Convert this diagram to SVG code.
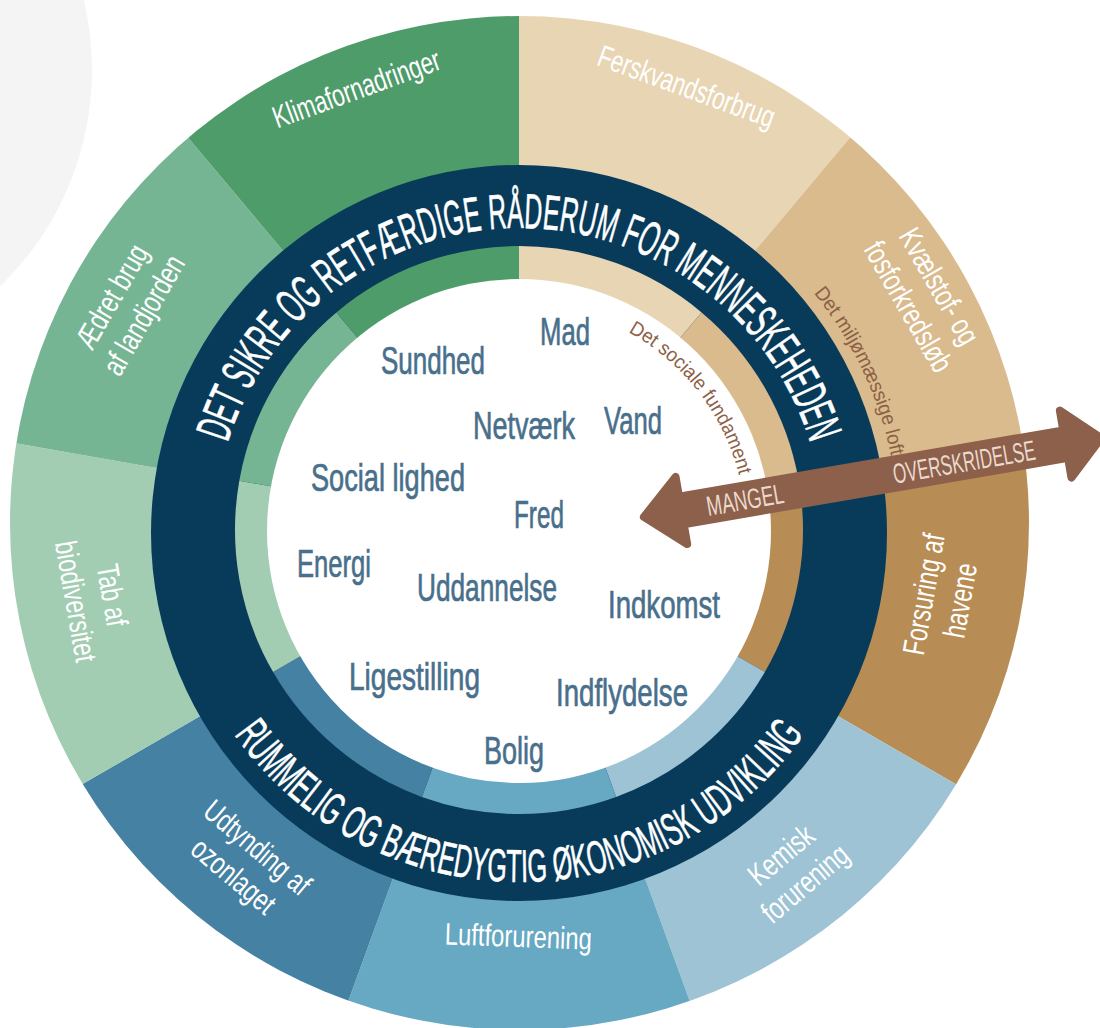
<svg xmlns="http://www.w3.org/2000/svg" width="1100" height="1028" viewBox="0 0 1100 1028">
<defs>
<style>
.lbl{font-family:"Liberation Sans",Arial,sans-serif;font-size:31px;fill:#ffffff;text-anchor:middle}
.word{font-family:"Liberation Sans",Arial,sans-serif;font-size:39px;fill:#486f8b;stroke:#486f8b;stroke-width:0.7px}
.ring{font-family:"Liberation Sans",Arial,sans-serif;fill:#ffffff;stroke:#ffffff;stroke-width:0.6px}
.small{font-family:"Liberation Sans",Arial,sans-serif;font-size:20px;fill:#8d5f47}
.arrowtxt{font-family:"Liberation Sans",Arial,sans-serif;font-size:28px;fill:#ead9ce}
</style>
<clipPath id="outerClip"><ellipse cx="519.5" cy="523" rx="509.5" ry="507"/></clipPath>
<path id="arcTop" d="M214,533 A305,305 0 0 1 824,533"/>
<path id="arcBottom" d="M170,533 A349,349 0 0 0 868,533"/>
<path id="arcSocial" d="M519,304 A227,227 0 0 1 746,531"/>
<path id="arcCeiling" d="M519,153 A380,380 0 0 1 899,533"/>
</defs>

<g id="background"><circle cx="-208" cy="70" r="300" fill="#f4f4f4"/></g>

<g id="boundaries" clip-path="url(#outerClip)">
 <g id="n-ferskvand">
  <path d="M519,532 L519,-68 A600,600 0 0 1 904.7,72.4 Z" fill="#e8d5b4"/>
  <text class="lbl" transform="translate(682.9,96.5) rotate(20) scale(0.72,1)">Ferskvandsforbrug</text>
 </g>
 <g id="n-kvaelstof">
  <path d="M519,532 L904.7,72.4 A600,600 0 0 1 1109.9,427.8 Z" fill="#d9bb8d"/>
  <text class="lbl" transform="translate(930.2,291.5) rotate(60) scale(0.74,1)">Kvælstof- og</text>
  <text class="lbl" transform="translate(899.2,312) rotate(60) scale(0.74,1)">fosforkredsløb</text>
 </g>
 <g id="n-forsuring">
  <path d="M519,532 L1109.9,427.8 A600,600 0 0 1 1038.6,832 Z" fill="#b78d55"/>
  <text class="lbl" transform="translate(934.2,595.9) rotate(-80) scale(0.74,1)">Forsuring af</text>
  <text class="lbl" transform="translate(970.6,602.3) rotate(-80) scale(0.74,1)">havene</text>
 </g>
 <g id="n-kemisk">
  <path d="M519,532 L1038.6,832 A600,600 0 0 1 724.2,1095.8 Z" fill="#9dc3d4"/>
  <text class="lbl" transform="translate(787.9,863.2) rotate(-40) scale(0.74,1)">Kemisk</text>
  <text class="lbl" transform="translate(811.7,891.6) rotate(-40) scale(0.74,1)">forurening</text>
 </g>
 <g id="n-luft">
  <path d="M519,532 L724.2,1095.8 A600,600 0 0 1 313.8,1095.8 Z" fill="#67a8c3"/>
  <text class="lbl" transform="translate(518,947) rotate(2) scale(0.77,1)">Luftforurening</text>
 </g>
 <g id="n-ozon">
  <path d="M519,532 L313.8,1095.8 A600,600 0 0 1 -0.6,832 Z" fill="#4581a2"/>
  <text class="lbl" transform="translate(250.6,855.7) rotate(40) scale(0.74,1)">Udtynding af</text>
  <text class="lbl" transform="translate(226.8,884.1) rotate(40) scale(0.74,1)">ozonlaget</text>
 </g>
 <g id="n-biodiversitet">
  <path d="M519,532 L-0.6,832 A600,600 0 0 1 -71.9,427.8 Z" fill="#a3cdb3"/>
  <text class="lbl" transform="translate(101.8,596.9) rotate(80) scale(0.74,1)">Tab af</text>
  <text class="lbl" transform="translate(65.4,603.3) rotate(80) scale(0.74,1)">biodiversitet</text>
 </g>
 <g id="n-landjord">
  <path d="M519,532 L-71.9,427.8 A600,600 0 0 1 133.3,72.4 Z" fill="#76b594"/>
  <text class="lbl" transform="translate(120.8,301.8) rotate(-60) scale(0.74,1)">Ædret brug</text>
  <text class="lbl" transform="translate(152.8,320.3) rotate(-60) scale(0.74,1)">af landjorden</text>
 </g>
 <g id="n-klima">
  <path d="M519,532 L133.3,72.4 A600,600 0 0 1 519,-68 Z" fill="#4f9c6b"/>
  <text class="lbl" transform="translate(360.1,98.5) rotate(-20) scale(0.72,1)">Klimafornadringer</text>
 </g>
</g>

<g id="n-dark-ring"><circle cx="519" cy="533" r="368" fill="#083b5a"/></g>

<g id="n-inner-ring">
 <path d="M519,530 L519,246 A284,284 0 0 1 701.6,312.4 Z" fill="#e8d5b4"/>
 <path d="M519,530 L701.6,312.4 A284,284 0 0 1 798.7,480.7 Z" fill="#d9bb8d"/>
 <path d="M519,530 L798.7,480.7 A284,284 0 0 1 764.9,672 Z" fill="#b78d55"/>
 <path d="M519,530 L764.9,672 A284,284 0 0 1 616.1,796.9 Z" fill="#9dc3d4"/>
 <path d="M519,530 L616.1,796.9 A284,284 0 0 1 421.9,796.9 Z" fill="#67a8c3"/>
 <path d="M519,530 L421.9,796.9 A284,284 0 0 1 273.1,672 Z" fill="#4581a2"/>
 <path d="M519,530 L273.1,672 A284,284 0 0 1 239.3,480.7 Z" fill="#a3cdb3"/>
 <path d="M519,530 L239.3,480.7 A284,284 0 0 1 336.4,312.4 Z" fill="#76b594"/>
 <path d="M519,530 L336.4,312.4 A284,284 0 0 1 519,246 Z" fill="#4f9c6b"/>
</g>

<g id="n-social-foundation">
 <circle cx="519" cy="531" r="252" fill="#ffffff"/>
 <text class="word" x="540" y="345" textLength="50" lengthAdjust="spacingAndGlyphs">Mad</text>
 <text class="word" x="381" y="374" textLength="104" lengthAdjust="spacingAndGlyphs">Sundhed</text>
 <text class="word" x="473" y="439" textLength="102" lengthAdjust="spacingAndGlyphs">Netværk</text>
 <text class="word" x="604" y="434" textLength="58" lengthAdjust="spacingAndGlyphs">Vand</text>
 <text class="word" x="311" y="491" textLength="154" lengthAdjust="spacingAndGlyphs">Social lighed</text>
 <text class="word" x="514" y="528" textLength="50" lengthAdjust="spacingAndGlyphs">Fred</text>
 <text class="word" x="297" y="577" textLength="74" lengthAdjust="spacingAndGlyphs">Energi</text>
 <text class="word" x="417" y="601" textLength="140" lengthAdjust="spacingAndGlyphs">Uddannelse</text>
 <text class="word" x="608" y="618" textLength="112" lengthAdjust="spacingAndGlyphs">Indkomst</text>
 <text class="word" x="349" y="690" textLength="131" lengthAdjust="spacingAndGlyphs">Ligestilling</text>
 <text class="word" x="556" y="706" textLength="132" lengthAdjust="spacingAndGlyphs">Indflydelse</text>
 <text class="word" x="484" y="764" textLength="60" lengthAdjust="spacingAndGlyphs">Bolig</text>
</g>

<g id="n-ring-texts">
 <text class="ring" font-size="49"><textPath href="#arcTop" startOffset="91.6" textLength="775" lengthAdjust="spacingAndGlyphs">DET SIKRE OG RETFÆRDIGE RÅDERUM FOR MENNESKEHEDEN</textPath></text>
 <text class="ring" font-size="46"><textPath href="#arcBottom" startOffset="214.7" textLength="667" lengthAdjust="spacingAndGlyphs">RUMMELIG OG BÆREDYGTIG ØKONOMISK UDVIKLING</textPath></text>
</g>

<g id="n-small-labels">
 <text class="small"><textPath href="#arcSocial" startOffset="114" textLength="186" lengthAdjust="spacingAndGlyphs">Det sociale fundament</textPath></text>
 <text class="small"><textPath href="#arcCeiling" startOffset="337" textLength="182" lengthAdjust="spacingAndGlyphs">Det miljømæssige loft</textPath></text>
</g>

<g id="connectors">
 <g id="arrow" transform="translate(638,518) rotate(-9.8)">
  <polygon points="6,0 44,-34 44,-14 434,-14 434,-34 470,0 434,34 434,14 44,14 44,34" fill="#8c604a" stroke="#8c604a" stroke-width="8" stroke-linejoin="round"/>
  <text class="arrowtxt" x="69.6" y="10" textLength="78" lengthAdjust="spacingAndGlyphs">MANGEL</text>
  <text class="arrowtxt" x="258.8" y="10" textLength="144" lengthAdjust="spacingAndGlyphs">OVERSKRIDELSE</text>
 </g>
</g>
</svg>
